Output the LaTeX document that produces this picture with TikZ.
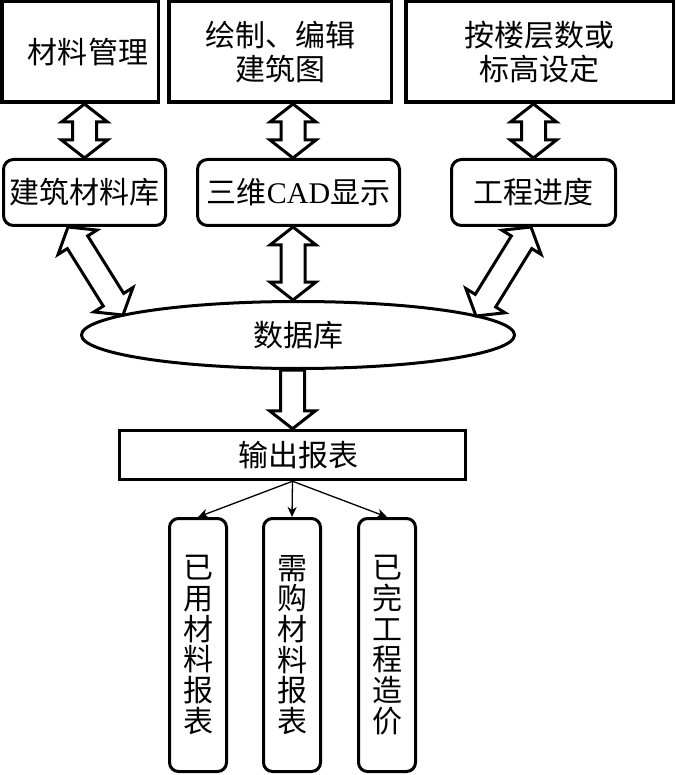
\documentclass[tikz,border=0pt]{standalone}
\usepackage{fontspec}
\setmainfont{Liberation Serif}
\newfontfamily\cjk{Noto Sans CJK SC}
\usetikzlibrary{calc,arrows.meta,shapes.geometric}
\def\ahl{18pt}
\def\ahw{23pt}
\def\asw{12pt}
\newcommand\dblarrow[2]{%
 \draw[blockarrow] (#1) -- ($(#1)!\ahl!(#2)!\ahw!90:(#2)$) -- ($(#1)!\ahl!(#2)!\asw!90:(#2)$)
  -- ($(#2)!\ahl!(#1)!\asw!-90:(#1)$) -- ($(#2)!\ahl!(#1)!\ahw!-90:(#1)$) -- (#2)
  -- ($(#2)!\ahl!(#1)!\ahw!90:(#1)$) -- ($(#2)!\ahl!(#1)!\asw!90:(#1)$)
  -- ($(#1)!\ahl!(#2)!\asw!-90:(#2)$) -- ($(#1)!\ahl!(#2)!\ahw!-90:(#2)$) -- cycle;}
\newcommand\onearrow[2]{%
 \draw[blockarrow] ($(#1)!\asw!90:(#2)$) -- ($(#2)!\ahl!(#1)!\asw!-90:(#1)$)
  -- ($(#2)!\ahl!(#1)!\ahw!-90:(#1)$) -- (#2) -- ($(#2)!\ahl!(#1)!\ahw!90:(#1)$)
  -- ($(#2)!\ahl!(#1)!\asw!90:(#1)$) -- ($(#1)!\asw!-90:(#2)$) -- cycle;}
\tikzset{
 sq/.style={draw, line width=3.5pt, inner sep=0pt, align=center, font=\cjk\fontsize{30}{34}\selectfont},
 rnd/.style={draw, line width=3pt, rounded corners=10pt, inner sep=0pt, align=center, minimum height=66pt, font=\fontsize{30}{34}\selectfont},
 vbox/.style={draw, line width=3pt, rounded corners=9pt, inner sep=0pt, align=center, minimum width=57pt, minimum height=253pt, font=\cjk\fontsize{30}{30.7}\selectfont},
 blockarrow/.style={draw, line width=3pt, fill=white, line join=miter},
 thinarr/.style={line width=1.3pt, -{Stealth[length=10pt,width=9pt,inset=3pt]}}
}
\begin{document}
\begin{tikzpicture}[x=1pt,y=-1pt]
\useasboundingbox[fill=white] (0,0) rectangle (675,775);
% top row
\node[sq, minimum width=156.5pt, minimum height=100.5pt] (t1) at (80,52) {\hspace{16pt}材料管理};
\node[sq, minimum width=222.5pt, minimum height=100.5pt] (t2) at (280,52) {绘制、编辑\\建筑图};
\node[sq, minimum width=267.5pt, minimum height=100.5pt] (t3) at (539.5,52) {按楼层数或\\标高设定};
% middle row
\node[rnd, minimum width=162pt] (lib) at (84.5,192.5) {\cjk 建筑材料库};
\node[rnd, minimum width=202pt] (cad) at (298.5,192.5) {{\cjk 三维}CAD{\cjk 显示}};
\node[rnd, minimum width=164pt] (prog) at (533.5,192.5) {\cjk 工程进度};
% database
\node[draw, ellipse, line width=3pt, minimum width=433pt, minimum height=67pt, inner sep=0pt,
      font=\cjk\fontsize{30}{34}\selectfont] (db) at (298,335) {数据库};
% output
\node[sq, minimum width=346pt, minimum height=49pt] (out) at (292.5,455) {\hspace{11pt}输出报表};
% reports
\node[vbox] (b1) at (198,645) {已\\用\\材\\料\\报\\表};
\node[vbox] (b2) at (292,645) {需\\购\\材\\料\\报\\表};
\node[vbox] (b3) at (387,645) {已\\完\\工\\程\\造\\价};
% arrow end points
\coordinate (a1t) at (lib.north |- t1.south);
\coordinate (a2b) at ($(cad.north)+(-5.5,0)$);
\coordinate (a2t) at (a2b |- t2.south);
\coordinate (a3t) at (prog.north |- t3.south);
\coordinate (dl1) at ($(lib.south)+(-16.5,0)$);
\coordinate (dl2) at ($(db.center)+(-175,-20)$);
\coordinate (dc1) at ($(cad.south)+(-5.5,0)$);
\coordinate (dc2) at (dc1 |- db.north);
\coordinate (dr1) at ($(prog.south)+(-2.5,0)$);
\coordinate (dr2) at ($(db.center)+(178,-19)$);
\coordinate (do1) at (out.north |- db.south);
% block arrows
\dblarrow{a1t}{lib.north}
\dblarrow{a2t}{a2b}
\dblarrow{a3t}{prog.north}
\dblarrow{dl1}{dl2}
\dblarrow{dc1}{dc2}
\dblarrow{dr1}{dr2}
\onearrow{do1}{out.north}
% thin arrows
\draw[thinarr] (out.south) -- (b1.north);
\draw[thinarr] (out.south) -- (b2.north);
\draw[thinarr] (out.south) -- (b3.north);
\end{tikzpicture}
\end{document}
